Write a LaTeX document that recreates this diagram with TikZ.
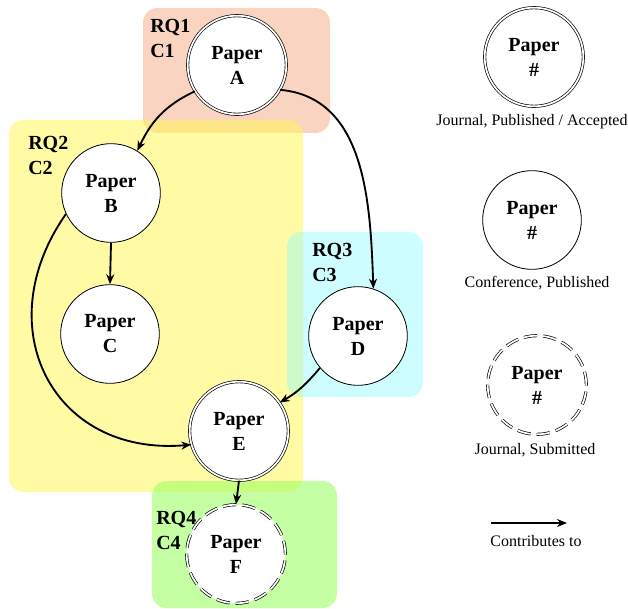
\documentclass[tikz,border=0pt]{standalone}
\usepackage{fontspec}
\setmainfont{Liberation Serif}
\usetikzlibrary{arrows.meta}
\definecolor{rqone}{RGB}{249,212,192}
\definecolor{rqtwo}{RGB}{255,246,90}
\definecolor{rqthree}{RGB}{130,250,255}
\definecolor{rqfour}{RGB}{150,255,90}
\begin{document}
\begin{tikzpicture}[x=0.75pt,y=0.75pt,
  rqbox/.style={rounded corners=11pt, draw=none},
  paper/.style={circle, minimum size=74pt, inner sep=0pt, fill=white, align=center,
    font=\fontsize{15}{18.75}\selectfont\bfseries},
  journal/.style={paper, draw=black, double=white, double distance=1.3pt, line width=0.5pt},
  conference/.style={paper, draw=black, line width=0.6pt},
  submitted/.style={journal, dash pattern=on 10pt off 4.5pt},
  rqlabel/.style={anchor=base west, align=left, inner sep=0pt,
    font=\fontsize{15}{18.75}\selectfont\bfseries},
  legendtext/.style={anchor=base, inner sep=0pt, font=\fontsize{12}{14}\selectfont},
  contrib/.style={-{Stealth[length=7.5pt,width=6pt]}, line width=1.4pt},
]
\useasboundingbox (0,0) rectangle (628,-609);

% research question areas
\fill[rqbox, rqone] (143,-8) rectangle (330,-133);
\fill[rqbox, rqtwo, fill opacity=0.55] (9,-120) rectangle (303,-492);
\fill[rqbox, rqthree, fill opacity=0.4] (287,-232) rectangle (423,-397);
\fill[rqbox, rqfour, fill opacity=0.55] (152,-481) rectangle (337,-608);

% labels are placed by the baseline of their last line
\node[rqlabel] (l1) at (150,-58) {RQ1\\C1};
\node[rqlabel] (l2) at (28,-175) {RQ2\\C2};
\node[rqlabel] (l3) at (312,-282) {RQ3\\C3};
\node[rqlabel] (l4) at (156,-549) {RQ4\\C4};

% papers
\node[journal] (A) at (237,-65) {Paper\\A};
\node[conference] (B) at (111,-193) {Paper\\B};
\node[conference] (C) at (110,-334) {Paper\\C};
\node[conference] (D) at (358,-336) {Paper\\D};
\node[journal] (E) at (239,-431) {Paper\\E};
\node[submitted] (F) at (236,-554) {Paper\\F};

% contributions
\draw[contrib] (A.212) to[out=205,in=65] (B.58);
\draw[contrib] (A.330) to[out=-5,in=92] (D.72);
\draw[contrib] (B.205) to[out=235,in=185,looseness=1.35] (E.196);
\draw[contrib] (B.south) -- (C.north);
\draw[contrib] (D.220) to[out=230,in=30] (E.35);
\draw[contrib] (E.south) -- (F.north);

% legend
\node[journal] (kj) at (534,-57) {Paper\\\#};
\node[legendtext] (kjt) at (532,-126) {Journal, Published / Accepted};
\node[conference] (kc) at (532,-220) {Paper\\\#};
\node[legendtext] (kct) at (537,-288) {Conference, Published};
\node[submitted] (ks) at (537,-385) {Paper\\\#};
\node[legendtext] (kst) at (535,-454) {Journal, Submitted};
\coordinate (ka) at (491,-523);
\coordinate (kb) at (567,-523);
\draw[contrib] (ka) -- (kb);
\node[legendtext] (kat) at (536,-546) {Contributes to};
\end{tikzpicture}
\end{document}
